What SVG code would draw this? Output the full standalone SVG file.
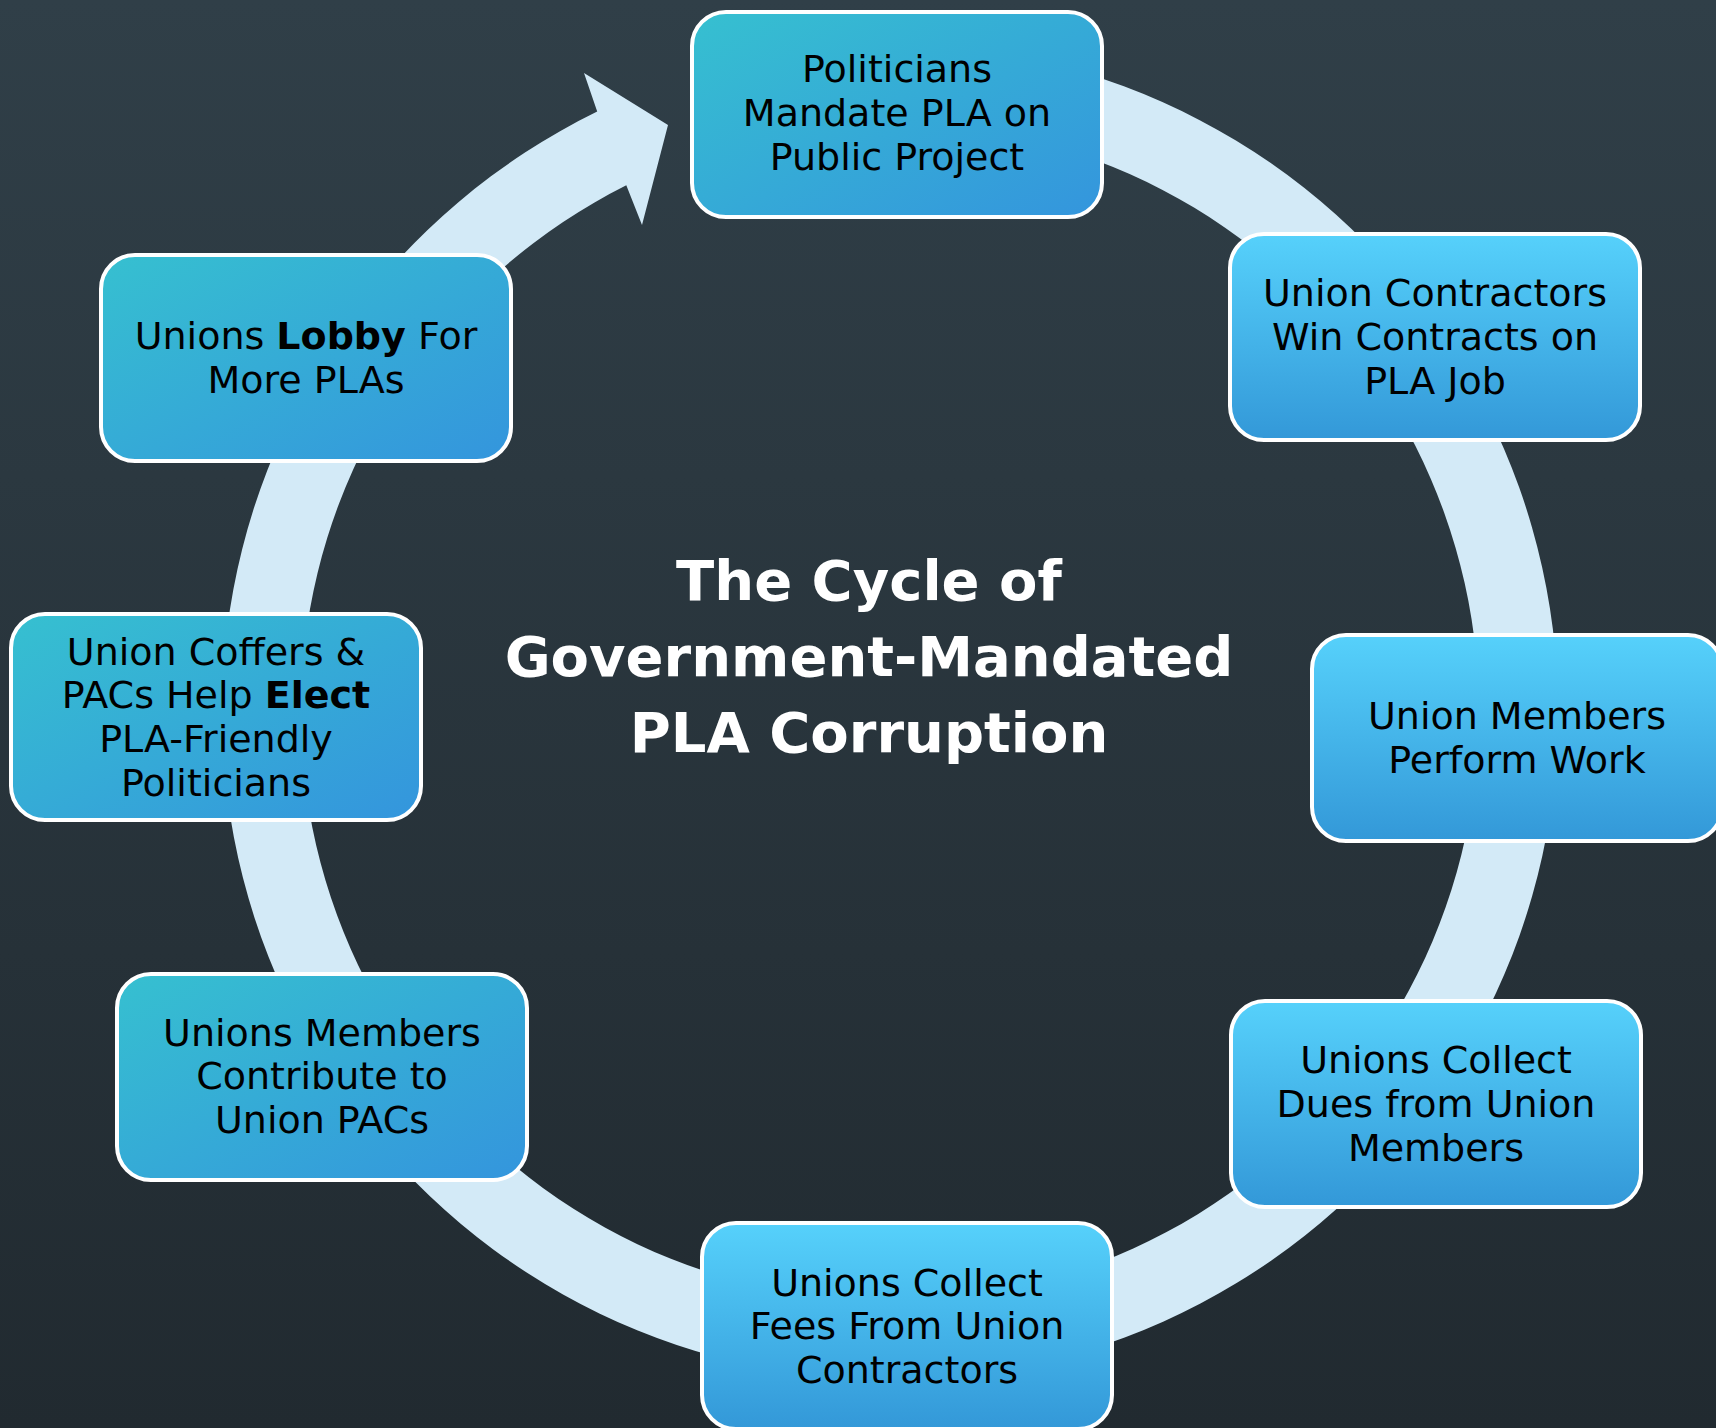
<svg xmlns="http://www.w3.org/2000/svg" width="1716" height="1428" viewBox="0 0 1716 1428">
<defs>
<linearGradient id="bg" x1="0" y1="0" x2="0" y2="1">
<stop offset="0" stop-color="#303F48"/>
<stop offset="1" stop-color="#212A30"/>
</linearGradient>
<linearGradient id="teal" x1="0" y1="0" x2="1" y2="1">
<stop offset="0" stop-color="#36C0D0"/>
<stop offset="1" stop-color="#3495DD"/>
</linearGradient>
<linearGradient id="sky" x1="0" y1="0" x2="0" y2="1">
<stop offset="0" stop-color="#56D1FB"/>
<stop offset="1" stop-color="#3398D8"/>
</linearGradient>
<style>
.box{stroke:#FFFFFF;stroke-width:4}
.t{fill:url(#teal)}
.s{fill:url(#sky)}
.lbl{font-family:"DejaVu Sans","Liberation Sans",sans-serif;font-size:38px;fill:#000000;text-anchor:middle}
.b{font-weight:bold}
.title{font-family:"DejaVu Sans","Liberation Sans",sans-serif;font-size:56px;font-weight:bold;fill:#FFFFFF;text-anchor:middle}
</style>
</defs>
<rect x="0" y="0" width="1716" height="1428" fill="url(#bg)"/>
<g id="connectors">
<path d="M797.03,50.5 A668,668 0 1 1 597.2,111.6 L584,73 L668,125 L642,225 L626.3,185.3 A589,589 0 1 0 808.03,128.73 Z" fill="#D3EAF7"/>
</g>
<g id="title">
<text class="title" x="869" y="600">The Cycle of</text>
<text class="title" x="869" y="676">Government-Mandated</text>
<text class="title" x="869" y="752">PLA Corruption</text>
</g>
<g id="node-politicians">
<rect class="box t" x="692" y="12" width="410" height="205" rx="34"/>
<text class="lbl" x="897" y="82">Politicians</text>
<text class="lbl" x="897" y="126">Mandate PLA on</text>
<text class="lbl" x="897" y="170">Public Project</text>
</g>
<g id="node-contractors">
<rect class="box s" x="1230" y="234" width="410" height="206" rx="34"/>
<text class="lbl" x="1435" y="306">Union Contractors</text>
<text class="lbl" x="1435" y="350">Win Contracts on</text>
<text class="lbl" x="1435" y="394">PLA Job</text>
</g>
<g id="node-work">
<rect class="box s" x="1312" y="635" width="410" height="206" rx="34"/>
<text class="lbl" x="1517" y="729">Union Members</text>
<text class="lbl" x="1517" y="773">Perform Work</text>
</g>
<g id="node-dues">
<rect class="box s" x="1231" y="1001" width="410" height="206" rx="34"/>
<text class="lbl" x="1436" y="1073">Unions Collect</text>
<text class="lbl" x="1436" y="1117">Dues from Union</text>
<text class="lbl" x="1436" y="1161">Members</text>
</g>
<g id="node-fees">
<rect class="box s" x="702" y="1223" width="410" height="206" rx="34"/>
<text class="lbl" x="907" y="1296">Unions Collect</text>
<text class="lbl" x="907" y="1339">Fees From Union</text>
<text class="lbl" x="907" y="1383">Contractors</text>
</g>
<g id="node-contribute">
<rect class="box t" x="117" y="974" width="410" height="206" rx="34"/>
<text class="lbl" x="322" y="1046">Unions Members</text>
<text class="lbl" x="322" y="1089">Contribute to</text>
<text class="lbl" x="322" y="1133">Union PACs</text>
</g>
<g id="node-elect">
<rect class="box t" x="11" y="614" width="410" height="206" rx="34"/>
<text class="lbl" x="216" y="665">Union Coffers &amp;</text>
<text class="lbl" x="216" y="708">PACs Help <tspan class="b">Elect</tspan></text>
<text class="lbl" x="216" y="752">PLA-Friendly</text>
<text class="lbl" x="216" y="796">Politicians</text>
</g>
<g id="node-lobby">
<rect class="box t" x="101" y="255" width="410" height="206" rx="34"/>
<text class="lbl" x="306" y="349">Unions <tspan class="b">Lobby</tspan> For</text>
<text class="lbl" x="306" y="393">More PLAs</text>
</g>
</svg>
